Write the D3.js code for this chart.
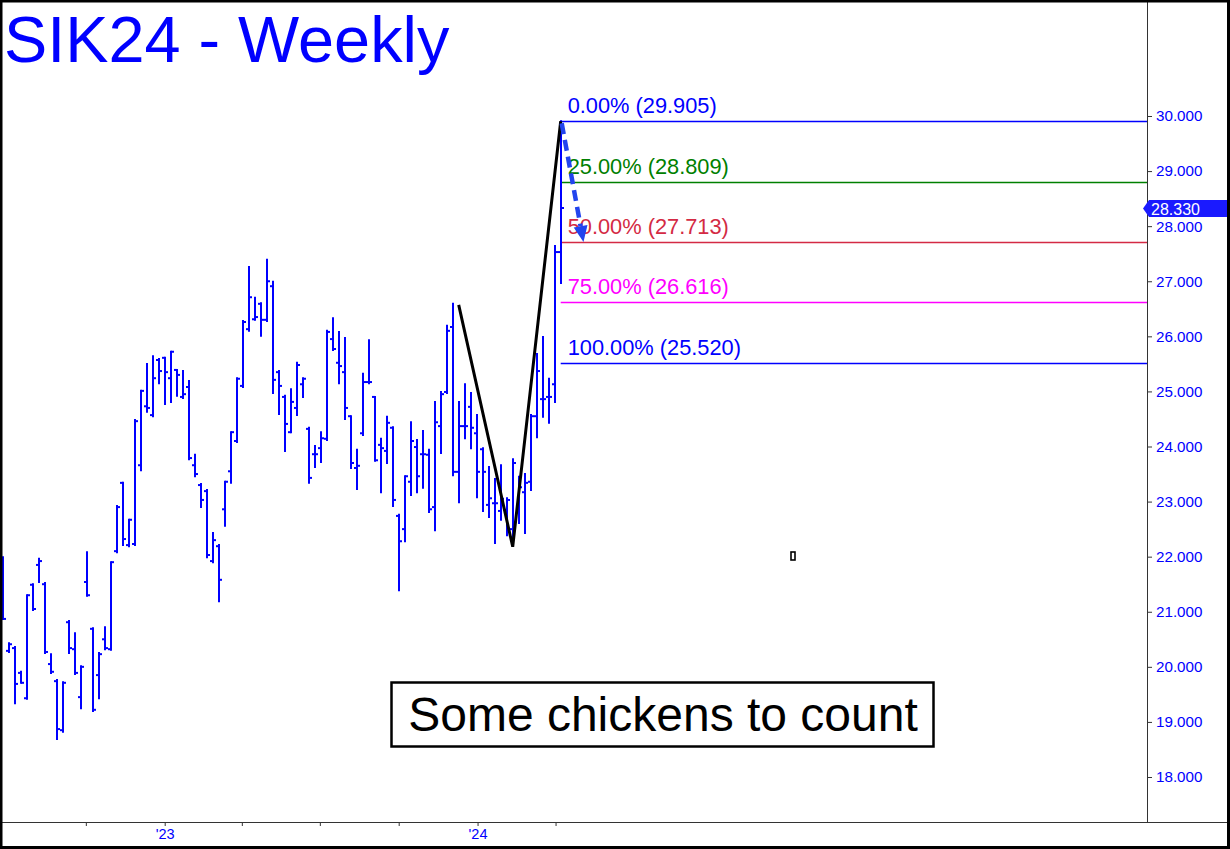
<!DOCTYPE html>
<html>
<head>
<meta charset="utf-8">
<script src="https://cdn.jsdelivr.net/npm/d3@7"></script>
<style>
  body { margin: 0; background: #fff; }
  svg { display: block; font-family: "Liberation Sans", Arial, sans-serif; }
</style>
</head>
<body>
<svg id="chart" width="1230" height="849"></svg>
<script>
// Weekly OHLC bars for SIK24, first bar = week of 26 Jun 2022
const opens  = [21.95,20.29,20.34,19.89,19.43,21.49,21.85,21.50,20.05,19.74,18.85,20.81,20.32,19.45,21.54,20.69,19.85,20.50,20.32,22.10,
                23.34,22.21,22.23,23.66,24.73,24.57,25.57,25.61,25.24,25.39,24.90,25.08,23.66,23.30,23.19,21.92,22.19,22.86,23.55,24.10,
                25.10,26.13,26.31,26.59,26.30,26.91,25.35,24.90,24.26,24.70,25.13,24.32,23.86,23.97,24.14,25.95,25.52,25.35,24.55,23.61,
                24.24,25.17,24.90,24.03,23.92,24.34,22.74,22.50,23.36,23.99,23.86,23.85,22.90,24.37,24.99,26.17,23.54,24.37,24.72,24.24,
                23.95,22.94,22.97,22.83,22.85,22.50,22.83,23.17,23.36,24.55,24.86,24.90,25.13,27.53];
const highs  = [21.99,20.43,20.36,19.91,21.30,21.50,21.96,21.52,20.23,19.76,19.72,20.83,20.61,20.01,22.08,20.70,20.25,20.72,21.90,22.92,
                23.34,22.67,24.48,25.01,25.50,25.64,25.59,25.61,25.72,25.39,25.37,25.19,23.85,23.32,23.21,22.43,22.21,23.36,24.26,25.24,
                26.28,27.26,26.70,26.60,27.39,26.99,25.37,24.92,25.04,25.52,25.24,24.34,24.01,24.26,26.10,26.33,26.08,25.97,24.55,23.94,
                25.32,25.93,24.90,24.14,24.54,24.35,22.76,23.46,24.44,24.12,24.28,23.94,24.81,24.99,26.19,26.59,24.81,25.13,24.97,24.57,
                23.97,23.63,23.41,23.66,23.06,23.77,23.45,23.50,24.57,25.68,25.99,25.23,27.64,29.905];
const lows   = [20.87,20.27,19.34,19.71,19.42,21.03,21.54,20.25,19.89,18.69,18.82,20.25,19.87,19.25,21.29,19.20,19.43,20.32,20.31,22.08,
                22.21,22.19,22.21,23.57,24.63,24.55,25.15,24.77,24.81,24.92,24.88,23.77,23.46,22.90,21.99,21.90,21.19,22.56,23.34,24.08,
                25.08,26.10,26.30,26.01,26.28,24.97,24.59,23.92,24.26,24.57,24.90,23.34,23.63,23.72,24.12,25.75,25.15,24.50,23.61,23.23,
                24.21,25.15,23.74,23.17,23.70,22.92,21.39,22.28,23.12,23.17,23.25,22.81,22.48,23.88,24.97,23.48,22.99,24.15,23.97,23.08,
                22.83,22.72,22.25,22.67,22.39,22.36,22.61,22.43,23.21,24.17,24.54,24.43,24.81,26.97];
const closes = [20.87,20.41,19.69,19.71,21.30,21.05,21.92,20.27,19.91,18.87,19.71,20.34,19.89,20.00,21.30,19.22,20.23,20.34,21.90,22.90,
                22.32,22.67,24.46,25.01,24.70,25.24,25.37,25.35,25.72,25.30,24.95,23.79,23.50,23.03,22.03,22.30,21.58,23.36,24.26,25.23,
                26.26,26.71,26.35,26.30,27.00,25.21,25.10,24.41,24.81,25.48,25.23,23.43,23.86,24.15,26.08,25.77,25.46,24.70,23.70,23.65,
                25.17,25.17,23.75,23.97,24.43,23.03,22.28,23.46,24.10,23.46,23.86,22.86,24.44,24.95,26.10,23.54,24.37,24.37,24.34,23.54,
                23.54,23.06,22.97,23.05,23.03,23.70,23.26,23.34,24.55,25.37,24.86,24.90,27.53,28.33];

const priceTicks = [18, 19, 20, 21, 22, 23, 24, 25, 26, 27, 28, 29, 30];
const fibPercents = ["0.00%", "25.00%", "50.00%", "75.00%", "100.00%"];
const fibPrices = [29.905, 28.809, 27.713, 26.616, 25.520];
const fibColors = ["#0000ff", "#008000", "#d42a44", "#ff00ff", "#0000ff"];

// swing points (bar index, price) and the projected pull-back
const abcBars = [76, 85, 93];
const abcPrices = [26.57, 22.18, 29.905];
const arrowBars = [93, 96.8];
const arrowPrices = [29.905, 27.713];

const lastPrice = 28.330;
const title = "SIK24 - Weekly";
const note = "Some chickens to count";

const W = 1230, H = 849;
const axisX = 1147, axisY = 822;
const barColor = "#0000ff";

const svg = d3.select("#chart");
const firstWeek = Date.UTC(2022, 5, 26);
const weekDate = i => new Date(firstWeek + i * 7 * 864e5);
const dates = opens.map((d, i) => weekDate(i));

const x = d3.scaleUtc().domain([dates[0], dates[dates.length - 1]]).range([2.7, 560.7]);
const y = d3.scaleLinear().domain([18, 30]).range([777, 116]);

svg.append("rect").attr("width", W).attr("height", H).attr("fill", "#fff");

// title
svg.append("text")
    .attr("x", 4).attr("y", 62)
    .attr("fill", "#0000ff")
    .style("font-size", "64.8px")
    .text(title);

// fib retracement lines
const fibG = svg.append("g");
const fibX0 = x(dates[93]);
fibPrices.forEach((p, i) => {
    fibG.append("line")
        .attr("x1", fibX0).attr("x2", axisX)
        .attr("y1", Math.round(y(p)) + 0.5).attr("y2", Math.round(y(p)) + 0.5)
        .attr("stroke", fibColors[i]).attr("stroke-width", 1.7);
});

// OHLC bars
const bars = svg.append("g").attr("stroke", barColor).attr("stroke-width", 2);
dates.forEach((d, i) => {
    const bx = Math.round(x(d));
    bars.append("line").attr("x1", bx).attr("x2", bx).attr("y1", y(highs[i]) - 1).attr("y2", y(lows[i]) + 1);
    bars.append("line").attr("x1", bx - 3).attr("x2", bx).attr("y1", y(opens[i])).attr("y2", y(opens[i]));
    bars.append("line").attr("x1", bx).attr("x2", bx + 3).attr("y1", y(closes[i])).attr("y2", y(closes[i]));
});

// fib labels (drawn over bars/lines)
fibPrices.forEach((p, i) => {
    fibG.append("text")
        .attr("x", fibX0 + 7).attr("y", y(p) - 8)
        .attr("fill", fibColors[i])
        .style("font-size", "21.8px")
        .text(`${fibPercents[i]} (${p.toFixed(3)})`);
});

// ABC swing line
const lineGen = d3.line().x(d => x(weekDate(d[0]))).y(d => y(d[1]));
svg.append("path")
    .datum(abcBars.map((b, i) => [b, abcPrices[i]]))
    .attr("d", lineGen)
    .attr("fill", "none")
    .attr("stroke", "#000")
    .attr("stroke-width", 3)
    .attr("stroke-linejoin", "miter");

// dashed projection arrow
const arrowColor = "#2244ee";
const a0 = [x(weekDate(arrowBars[0])) + 1, y(arrowPrices[0]) + 2];
const a1 = [x(weekDate(arrowBars[1])), y(arrowPrices[1])];
const ang = Math.atan2(a1[1] - a0[1], a1[0] - a0[0]);
const headLen = 16, headW = 7;
const base = [a1[0] - headLen * Math.cos(ang), a1[1] - headLen * Math.sin(ang)];
svg.append("line")
    .attr("x1", a0[0]).attr("y1", a0[1])
    .attr("x2", base[0]).attr("y2", base[1])
    .attr("stroke", arrowColor).attr("stroke-width", 4.5)
    .attr("stroke-dasharray", "11,6");
svg.append("path")
    .attr("d", d3.line()([
        a1,
        [base[0] + headW * Math.sin(ang), base[1] - headW * Math.cos(ang)],
        [base[0] - headW * Math.sin(ang), base[1] + headW * Math.cos(ang)]
    ]) + "Z")
    .attr("fill", arrowColor);

// note box
const box = svg.append("g");
box.append("rect")
    .attr("x", 391.5).attr("y", 682.5).attr("width", 542).attr("height", 64)
    .attr("fill", "#fff").attr("stroke", "#000").attr("stroke-width", 2.5);
box.append("text")
    .attr("x", 663).attr("y", 731)
    .attr("text-anchor", "middle")
    .style("font-size", "48px")
    .attr("fill", "#000")
    .text(note);

// small stray marker
svg.append("rect")
    .attr("x", 791).attr("y", 552).attr("width", 4).attr("height", 8)
    .attr("fill", "#fff").attr("stroke", "#000").attr("stroke-width", 1.6);

// right price axis
const yAxis = d3.axisRight(y).tickValues(priceTicks).tickSize(5).tickPadding(4)
    .tickFormat(d3.format(".3f"));
const gy = svg.append("g").attr("transform", `translate(${axisX},0)`).call(yAxis);
gy.select(".domain").remove();
gy.selectAll(".tick line").attr("stroke", "#333");
gy.selectAll(".tick text").attr("fill", "#0000ff").style("font-size", "15.2px")
    .style("font-family", "'Liberation Sans', Arial, sans-serif");
svg.append("line").attr("x1", axisX + 0.5).attr("x2", axisX + 0.5).attr("y1", 0).attr("y2", axisY)
    .attr("stroke", "#333").attr("stroke-width", 1);

// last price tag
const ly = Math.round(y(lastPrice)) + 0.5;
svg.append("path")
    .attr("d", d3.line()([[1143, ly], [1149, ly - 8.5], [1227, ly - 8.5], [1227, ly + 8.5], [1149, ly + 8.5]]) + "Z")
    .attr("fill", "#1a1aff");
svg.append("text")
    .attr("x", 1151).attr("y", ly + 6)
    .attr("fill", "#fff").style("font-size", "16px")
    .text(lastPrice.toFixed(3));

// bottom time axis
const quarterTicks = d3.utcMonth.every(3).range(new Date(Date.UTC(2022, 9, 1)), new Date(Date.UTC(2024, 6, 1)));
const xAxis = d3.axisBottom(x).tickValues(quarterTicks).tickSize(4).tickPadding(3)
    .tickFormat(d => d.getUTCMonth() === 0 ? "'" + String(d.getUTCFullYear()).slice(2) : "");
const gx = svg.append("g").attr("transform", `translate(0,${axisY})`).call(xAxis);
gx.select(".domain").remove();
gx.selectAll(".tick line").attr("stroke", "#333");
gx.selectAll(".tick text").attr("fill", "#0000ff").style("font-size", "14.5px")
    .style("font-family", "'Liberation Sans', Arial, sans-serif");
svg.append("line").attr("x1", 0).attr("x2", W).attr("y1", axisY + 0.5).attr("y2", axisY + 0.5)
    .attr("stroke", "#333").attr("stroke-width", 1);

// outer frame
svg.append("rect")
    .attr("x", 1).attr("y", 1).attr("width", W - 2.5).attr("height", H - 2.5)
    .attr("fill", "none").attr("stroke", "#000").attr("stroke-width", 3);
</script>
</body>
</html>
